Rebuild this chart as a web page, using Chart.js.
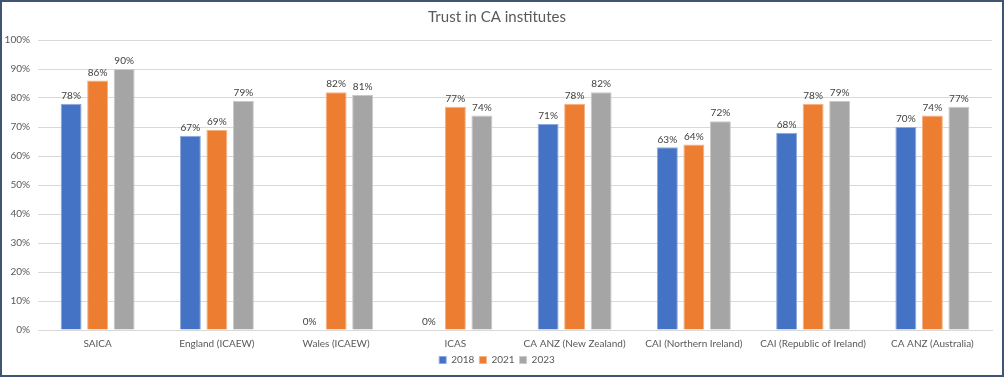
<!DOCTYPE html>
<html><head><meta charset="utf-8">
<script src="https://cdn.jsdelivr.net/npm/chart.js@4/dist/chart.umd.min.js"></script>
<style>
html,body{margin:0;padding:0;background:#fff;}
#wrap{width:1004px;height:377px;box-sizing:border-box;border:2px solid #3f5573;position:relative;background:#fff;}
canvas{display:block;}
</style></head><body>
<div id="wrap"><canvas id="c" width="1000" height="373"></canvas></div>
<script>
const categories = ["SAICA","England (ICAEW)","Wales (ICAEW)","ICAS","CA ANZ (New Zealand)","CAI (Northern Ireland)","CAI (Republic of Ireland)","CA ANZ (Australia)"];
const series2018 = [78,67,0,0,71,63,68,70];
const series2021 = [86,69,82,77,78,64,78,74];
const series2023 = [90,79,81,74,82,72,79,77];
const yTicks = [0,10,20,30,40,50,60,70,80,90,100];
const FONT = "Lato, 'Open Sans', sans-serif";

const labelPlugin = {
  id:'barLabels',
  afterDatasetsDraw(chart){
    const ctx = chart.ctx;
    ctx.save();
    ctx.font = "10px " + FONT;
    ctx.fillStyle = "#404040";
    ctx.textAlign = "center";
    ctx.textBaseline = "bottom";
    chart.data.datasets.forEach((ds,i)=>{
      const meta = chart.getDatasetMeta(i);
      meta.data.forEach((el,j)=>{
        ctx.fillText(ds.data[j]+"%", el.x, el.y-3);
      });
    });
    ctx.restore();
  }
};

new Chart(document.getElementById('c'),{
  type:'bar',
  data:{
    labels:categories,
    datasets:[
      {label:'2018',data:series2018,backgroundColor:'#4472C4',borderColor:'#8eaadc',borderWidth:1},
      {label:'2021',data:series2021,backgroundColor:'#ED7D31',borderColor:'#f4b183',borderWidth:1},
      {label:'2023',data:series2023,backgroundColor:'#A5A5A5',borderColor:'#c9c9c9',borderWidth:1}
    ]
  },
  options:{
    responsive:false,
    animation:false,
    layout:{padding:{left:0,right:10,top:0,bottom:0}},
    datasets:{bar:{categoryPercentage:0.667,barPercentage:0.79}},
    plugins:{
      title:{display:true,text:'Trust in CA institutes',color:'#595959',font:{family:FONT,size:15,weight:'normal'},padding:{top:6,bottom:14}},
      legend:{position:'bottom',labels:{color:'#595959',font:{family:FONT,size:10},boxWidth:7,boxHeight:7,padding:5}},
      tooltip:{enabled:false}
    },
    scales:{
      x:{grid:{display:false},border:{display:true,color:'#d9d9d9'},ticks:{color:'#595959',font:{family:FONT,size:10},padding:0,maxRotation:0,autoSkip:false}},
      y:{min:0,max:100,afterBuildTicks(s){s.ticks=yTicks.map(v=>({value:v}));},
         afterFit(s){s.width=36;},
         grid:{color:'#d9d9d9',drawTicks:false},border:{display:false},
         ticks:{color:'#595959',font:{family:FONT,size:10},padding:8,callback:v=>v+'%'}}
    }
  },
  plugins:[labelPlugin]
});
</script>
</body></html>
